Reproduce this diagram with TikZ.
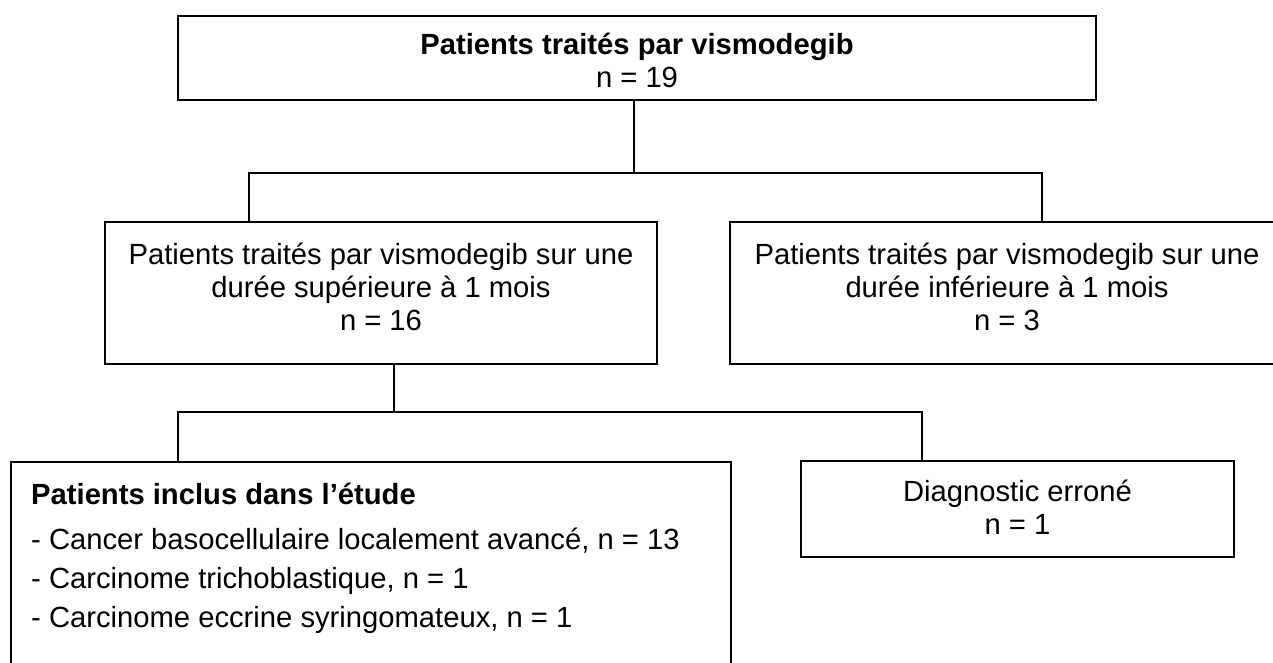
\documentclass[tikz,border=0pt]{standalone}
\usepackage{fontspec}
\setmainfont{Liberation Sans}

\begin{document}
\begin{tikzpicture}[
  x=1pt, y=-1pt,
  box/.style={rectangle, draw, line width=2.4pt, inner sep=0pt},
  txt/.style={align=center, inner sep=0pt, font=\fontsize{29.2}{33}\selectfont},
  link/.style={draw, line width=1.7pt}
]
  \useasboundingbox (0,0) rectangle (1273,663);

  \node[box, minimum width=918pt, minimum height=84pt] (top) at (637,58) {};
  \node[txt, yshift=-2pt] (toptxt) at (top.center) {\textbf{Patients traités par vismodegib}\\n = 19};

  \node[box, minimum width=552pt, minimum height=142pt] (lmid) at (381,293) {};
  \node[txt, yshift=6pt] (lmidtxt) at (lmid.center) {Patients traités par vismodegib sur une\\durée supérieure à 1 mois\\n = 16};

  \node[box, minimum width=554pt, minimum height=142pt] (rmid) at (1007,293) {};
  \node[txt, yshift=6pt] (rmidtxt) at (rmid.center) {Patients traités par vismodegib sur une\\durée inférieure à 1 mois\\n = 3};

  \node[box, anchor=north west, minimum width=720pt, minimum height=240pt] (incl) at (9.6,461) {};
  \node[txt, align=left, anchor=north west] (incltxt) at (31,483) {\textbf{Patients inclus dans l’étude}\\[12pt]
    - Cancer basocellulaire localement avancé, n = 13\\[6pt]
    - Carcinome trichoblastique, n = 1\\[6pt]
    - Carcinome eccrine syringomateux, n = 1};

  \node[box, minimum width=433pt, minimum height=96pt] (diag) at (1017.5,509) {};
  \node[txt, yshift=2pt] (diagtxt) at (diag.center) {Diagnostic erroné\\n = 1};

  \coordinate (tknee) at (634,173);
  \coordinate (lknee) at (249,173);
  \coordinate (rknee) at (1042,173);
  \coordinate (dknee) at (394,412);
  \coordinate (iknee) at (178,412);
  \coordinate (eknee) at (922,412);

  \draw[link] (top.south -| tknee) -- (tknee);
  \draw[link] (lmid.north -| lknee) -- (lknee) -- (rknee) -- (rmid.north -| rknee);
  \draw[link] (lmid.south -| dknee) -- (dknee);
  \draw[link] (incl.north -| iknee) -- (iknee) -- (eknee) -- (diag.north -| eknee);
\end{tikzpicture}
\end{document}
